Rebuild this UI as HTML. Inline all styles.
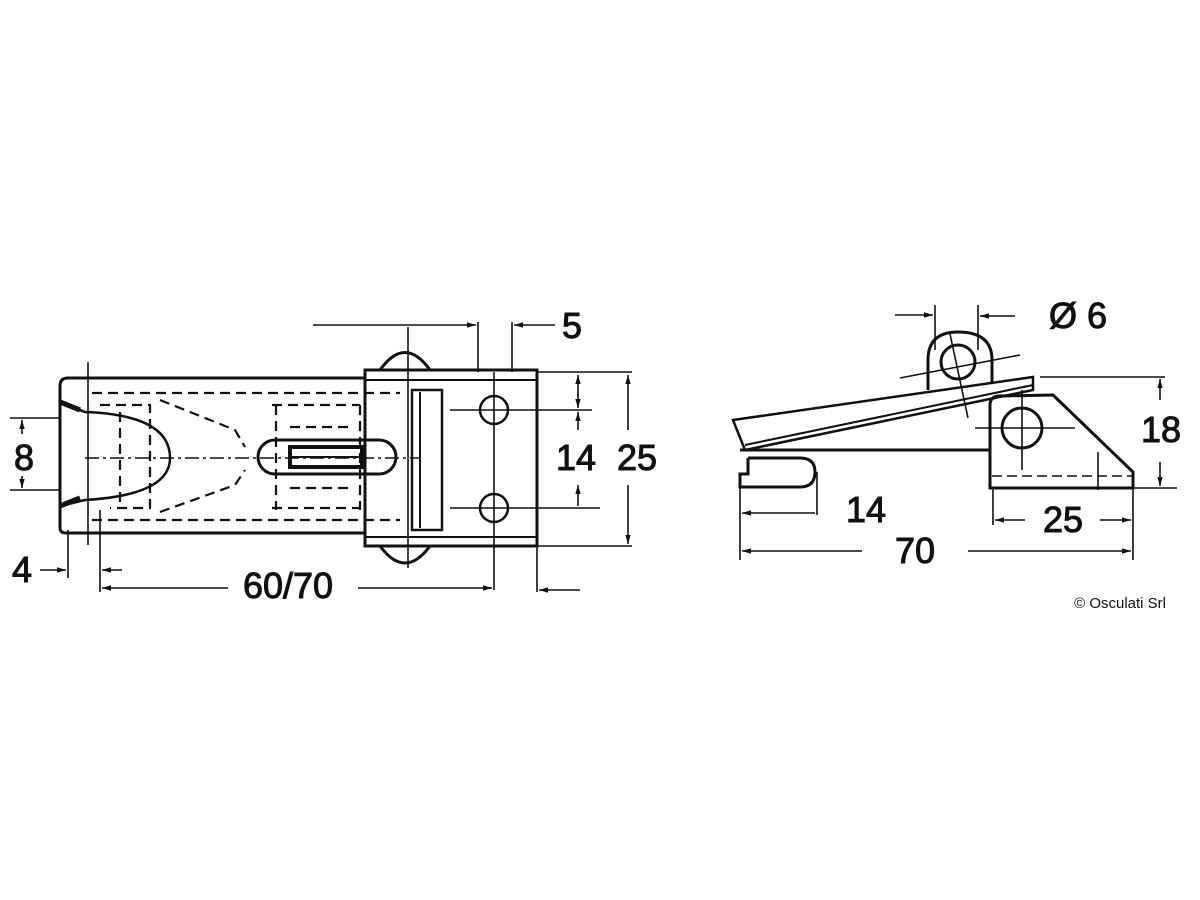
<!DOCTYPE html>
<html><head><meta charset="utf-8"><style>html,body{margin:0;padding:0;background:#fff}svg{display:block}</style></head>
<body>
<svg width="1200" height="900" viewBox="0 0 1200 900" xmlns="http://www.w3.org/2000/svg" font-family="Liberation Sans, Arial, sans-serif">
<defs>
<marker id="a" viewBox="0 0 10 10" refX="10" refY="5" markerWidth="9" markerHeight="9" orient="auto-start-reverse" markerUnits="userSpaceOnUse"><path d="M0,2 L10,5 L0,8 z" fill="#111"/></marker>
</defs>
<rect width="1200" height="900" fill="#fff"/>
<g stroke="#111" fill="none" stroke-width="3">
<path d="M66,378 L365,378 M60,386 L60,528 Q60,533 66,533 L365,533 M60,386 Q60,378 68,378"/>
<rect x="365" y="370" width="172" height="176"/>
<line x1="365" y1="380" x2="537" y2="380" stroke-width="2"/>
<line x1="365" y1="537" x2="537" y2="537" stroke-width="2"/>
<path d="M380,370 Q405,335 430,370"/>
<path d="M380,546 Q405,580 430,546"/>
<rect x="412" y="390" width="30" height="140" stroke-width="2.5"/>
<line x1="420" y1="392" x2="420" y2="528" stroke-width="2"/>
<circle cx="494" cy="410" r="14" stroke-width="2.5"/>
<circle cx="494" cy="508" r="14" stroke-width="2.5"/>
<rect x="258" y="440" width="138" height="34" rx="17" stroke-width="3"/>
<rect x="290" y="447" width="72" height="20" stroke-width="4"/>
<line x1="292" y1="457" x2="360" y2="457" stroke-width="2"/>
<path d="M60,402 L85,412 Q170,415 170,458 Q170,495 85,500 L60,506" stroke-width="2.5"/>
<path d="M60,402 L80,410 M60,506 L80,498" stroke-width="5"/>
</g>
<g stroke="#111" fill="none" stroke-width="2.2" stroke-dasharray="10,6">
<path d="M92,393 L400,393 M92,520 L400,520"/>
<path d="M100,405 L150,405 L150,508 L110,508"/>
<path d="M120,412 L120,506"/>
<path d="M160,400 L235,430 L245,447 M160,512 L235,485 L245,470"/>
<path d="M272,405 L360,405 M272,508 L360,508 M276,405 L276,510 M360,405 L360,510"/>
<path d="M290,427 L350,427 M290,488 L350,488"/>
</g>
<g stroke="#111" fill="none" stroke-width="1.6">
<line x1="88" y1="362" x2="88" y2="545"/>
<line x1="408" y1="327" x2="408" y2="568"/>
<line x1="450" y1="410" x2="592" y2="410"/>
<line x1="450" y1="508" x2="600" y2="508"/>
<line x1="85" y1="458" x2="420" y2="458" stroke-dasharray="14,4,3,4"/>
<line x1="537" y1="372" x2="632" y2="372"/>
<line x1="537" y1="546" x2="632" y2="546"/>
<line x1="478" y1="322" x2="478" y2="372"/>
<line x1="512" y1="322" x2="512" y2="372"/>
<line x1="494" y1="372" x2="494" y2="590"/>
<line x1="313" y1="325" x2="476" y2="325" marker-end="url(#a)"/>
<line x1="555" y1="325" x2="514" y2="325" marker-end="url(#a)"/>
<line x1="578" y1="375" x2="578" y2="408" marker-end="url(#a)" marker-start="url(#a)"/>
<line x1="578" y1="485" x2="578" y2="506" marker-start="url(#a)"/>
<line x1="578" y1="412" x2="578" y2="430" marker-start="url(#a)"/>
<line x1="628" y1="375" x2="628" y2="430" marker-start="url(#a)"/>
<line x1="628" y1="485" x2="628" y2="544" marker-end="url(#a)"/>
<line x1="10" y1="418" x2="60" y2="418"/>
<line x1="10" y1="490" x2="60" y2="490"/>
<line x1="22" y1="420" x2="22" y2="434" marker-start="url(#a)"/>
<line x1="22" y1="476" x2="22" y2="488" marker-end="url(#a)"/>
<line x1="68" y1="530" x2="68" y2="578"/>
<line x1="100" y1="510" x2="100" y2="592"/>
<line x1="40" y1="570" x2="66" y2="570" marker-end="url(#a)"/>
<line x1="122" y1="570" x2="102" y2="570" marker-end="url(#a)"/>
<line x1="102" y1="588" x2="228" y2="588" marker-start="url(#a)"/>
<line x1="358" y1="588" x2="492" y2="588" marker-end="url(#a)"/>
<line x1="537" y1="546" x2="537" y2="592"/>
<line x1="580" y1="590" x2="539" y2="590" marker-end="url(#a)"/>
</g>
<g fill="#111" stroke="#111" stroke-width="1" font-size="36">
<text x="572" y="338" text-anchor="middle">5</text>
<text x="576" y="470" text-anchor="middle">14</text>
<text x="637" y="470" text-anchor="middle">25</text>
<text x="24" y="470" text-anchor="middle">8</text>
<text x="22" y="582" text-anchor="middle">4</text>
<text x="288" y="598" text-anchor="middle">60/70</text>
</g>
<g stroke="#111" fill="none" stroke-width="3">
<path d="M733,420 L1033,377 L1033,390 L745,450 Z" stroke-width="2.5"/>
<line x1="745" y1="445" x2="1033" y2="385" stroke-width="2"/>
<line x1="740" y1="450" x2="990" y2="450"/>
<path d="M928,390 L928,360 Q928,332 958,332 Q992,332 992,360 L992,382"/>
<circle cx="958" cy="362" r="17"/>
<path d="M990,488 L990,405 Q990,396 1000,396 L1053,395 L1133,472 L1133,488 Z"/>
<circle cx="1022" cy="428" r="20"/>
<path d="M748,458 L748,474 L740,474 L740,487 L800,487 Q815,487 815,472 Q815,458 800,458 L748,458"/>
</g>
<g stroke="#111" fill="none" stroke-width="1.6">
<line x1="992" y1="476" x2="1133" y2="476" stroke-dasharray="10,5"/>
<line x1="935" y1="305" x2="935" y2="350"/>
<line x1="978" y1="305" x2="978" y2="350"/>
<line x1="895" y1="315" x2="933" y2="315" marker-end="url(#a)"/>
<line x1="1015" y1="316" x2="980" y2="316" marker-end="url(#a)"/>
<line x1="900" y1="378" x2="1020" y2="355"/>
<line x1="950" y1="334" x2="968" y2="418"/>
<line x1="975" y1="428" x2="1075" y2="428"/>
<line x1="1022" y1="390" x2="1022" y2="470"/>
<line x1="1098" y1="452" x2="1098" y2="490"/>
<line x1="1040" y1="377" x2="1165" y2="377"/>
<line x1="1133" y1="488" x2="1177" y2="488"/>
<line x1="1160" y1="400" x2="1160" y2="379" marker-end="url(#a)"/>
<line x1="1160" y1="462" x2="1160" y2="486" marker-end="url(#a)"/>
<line x1="740" y1="487" x2="740" y2="560"/>
<line x1="817" y1="472" x2="817" y2="515"/>
<line x1="993" y1="488" x2="993" y2="525"/>
<line x1="1133" y1="488" x2="1133" y2="560"/>
<line x1="815" y1="513" x2="742" y2="513" marker-end="url(#a)"/>
<line x1="1025" y1="520" x2="995" y2="520" marker-end="url(#a)"/>
<line x1="1100" y1="520" x2="1131" y2="520" marker-end="url(#a)"/>
<line x1="862" y1="551" x2="742" y2="551" marker-end="url(#a)"/>
<line x1="968" y1="551" x2="1131" y2="551" marker-end="url(#a)"/>
</g>
<g fill="#111" stroke="#111" stroke-width="1" font-size="36">
<text x="1078" y="328" text-anchor="middle">Ø 6</text>
<text x="1161" y="442" text-anchor="middle">18</text>
<text x="866" y="522" text-anchor="middle">14</text>
<text x="1063" y="532" text-anchor="middle">25</text>
<text x="915" y="563" text-anchor="middle">70</text>
</g>
<text x="1166" y="608" font-size="15" text-anchor="end" fill="#111">© Osculati Srl</text>
</svg>
</body></html>
